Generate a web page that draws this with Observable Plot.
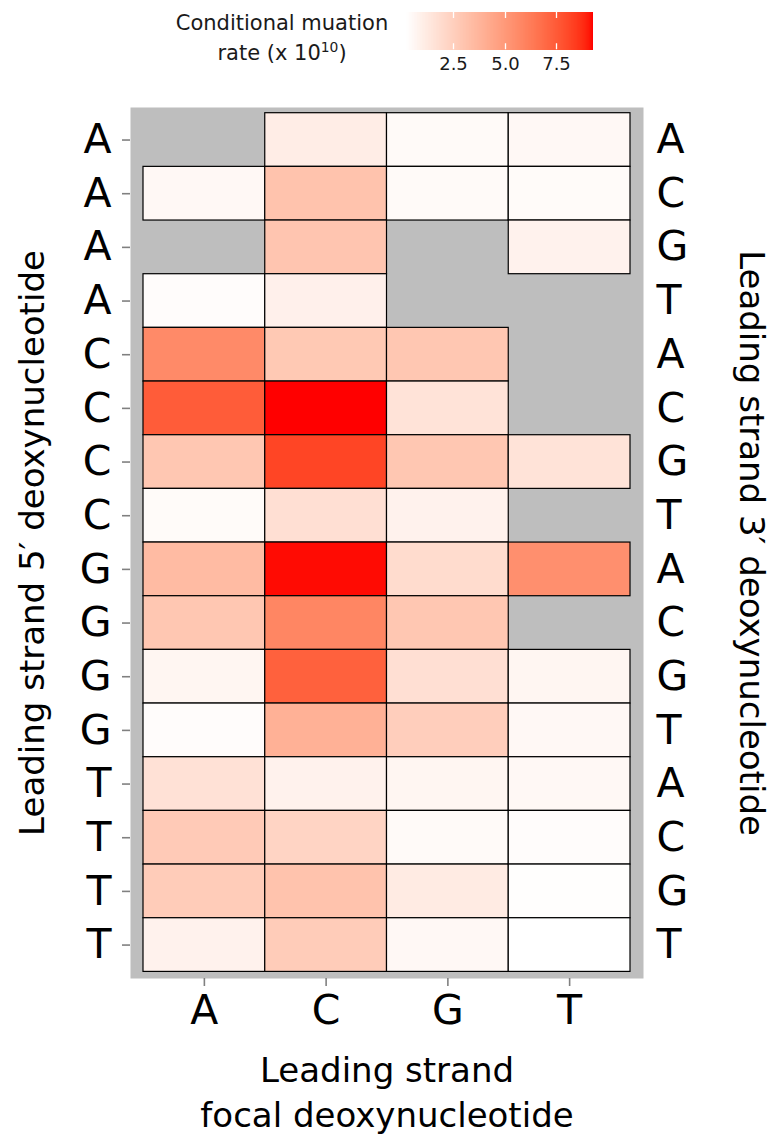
<!DOCTYPE html>
<html>
<head>
<meta charset="utf-8">
<script src="https://cdn.jsdelivr.net/npm/d3@7"></script>
<script src="https://cdn.jsdelivr.net/npm/@observablehq/plot@0.6"></script>
<style>
  body { margin: 0; background: white; }
  #wrap { position: relative; width: 776px; height: 1137px; font-family: "DejaVu Sans", sans-serif; overflow: hidden; }
  #legend-title { position: absolute; left: 142px; top: 8px; width: 280px; text-align: center; font-size: 21px; line-height: 30px; color: #1a1a1a; }
  #legend-title .sup { position: relative; top: -0.55em; font-size: 0.66em; line-height: 0; }
  #legend { position: absolute; left: 396px; top: 0px; }
  #legend svg { font-family: "DejaVu Sans", sans-serif !important; overflow: visible; }
  #legend text { font-size: 18px !important; fill: #1a1a1a; }
  #legend .tick line { stroke: white !important; stroke-width: 1.3px; stroke-dasharray: 6 25.3 6 60; }
  #chart { position: absolute; left: 0; top: 95px; }
</style>
</head>
<body>
<div id="wrap">
  <div id="legend-title">Conditional muation<br>rate (x 10<span class="sup">10</span>)</div>
  <div id="legend"></div>
  <div id="chart"></div>
</div>
<script>
// Focal (leading strand) deoxynucleotide — x categories
const focal = ["A", "C", "G", "T"];
// Row contexts: 5' neighbour (left labels) and 3' neighbour (right labels)
const fivePrime  = ["A","A","A","A","C","C","C","C","G","G","G","G","T","T","T","T"];
const threePrime = ["A","C","G","T","A","C","G","T","A","C","G","T","A","C","G","T"];

// Conditional mutation rate (x 10^10) per row, one array per focal base (null = no data)
const rateA = [null, 0.56, null, 0.38, 5.66, 7.48, 2.93, 0.43, 3.48, 2.93, 0.66, 0.38, 1.66, 2.75, 2.66, 0.84];
const rateC = [1.10, 3.10, 3.00, 0.93, 2.84, 9.27, 8.20, 1.75, 9.20, 5.84, 7.30, 3.95, 0.84, 2.29, 3.11, 2.66];
const rateG = [0.47, 0.47, null, null, 2.93, 1.57, 2.93, 0.84, 1.93, 2.93, 1.75, 2.57, 0.66, 0.47, 1.20, 0.56];
const rateT = [0.56, 0.43, 0.84, null, null, null, 1.57, null, 5.45, null, 0.66, 0.56, 0.56, 0.38, 0.29, 0.23];

// Legend tick labels
const legendTicks = [2.5, 5.0, 7.5];

const xTitle = "Leading strand\nfocal deoxynucleotide";
const yLeftTitle = "Leading strand 5\u2032 deoxynucleotide";
const yRightTitle = "Leading strand 3\u2032 deoxynucleotide";

// Build table
const rowKeys = fivePrime.map((f, i) => f + threePrime[i]);
const byFocal = {A: rateA, C: rateC, G: rateG, T: rateT};
const data = [];
for (const b of focal) {
  byFocal[b].forEach((v, i) => {
    if (v != null) data.push({focal: b, key: rowKeys[i], rate: v});
  });
}
const extent = d3.extent(data, d => d.rate);

const colorOpts = {type: "linear", domain: extent, range: ["white", "red"], interpolate: "lab"};

const chart = Plot.plot({
  width: 776,
  height: 1042,
  marginTop: 12,
  marginBottom: 159,
  marginLeft: 130,
  marginRight: 133,
  style: {fontFamily: "'DejaVu Sans', sans-serif", background: "white", color: "black", overflow: "visible"},
  x: {type: "band", domain: focal, padding: 0, round: false, insetLeft: 13, insetRight: 13},
  y: {type: "band", domain: rowKeys, padding: 0, round: false, insetTop: 5.7, insetBottom: 6.6},
  color: colorOpts,
  marks: [
    Plot.frame({fill: "#BEBEBE", stroke: "none"}),
    Plot.cell(data, {x: "focal", y: "key", fill: "rate", stroke: "black", strokeWidth: 1.2}),
    Plot.axisY({anchor: "left", tickFormat: k => k[0], fontSize: 41, tickSize: 8, tickPadding: 11, stroke: "#808080", strokeWidth: 1.6, fill: "black", label: null}),
    Plot.axisY({anchor: "right", tickFormat: k => k[1], fontSize: 41, tickSize: 0, tickPadding: 13, fill: "black", label: null}),
    Plot.axisX({anchor: "bottom", fontSize: 41, tickSize: 8, tickPadding: 8, stroke: "#808080", strokeWidth: 1.6, fill: "black", label: null}),
    Plot.text([xTitle], {text: d => d, frameAnchor: "bottom", textAnchor: "middle", lineAnchor: "top", dy: 71, fontSize: 34, lineHeight: 1.34, fill: "black"}),
    Plot.text([yLeftTitle], {text: d => d, frameAnchor: "left", textAnchor: "middle", rotate: -90, lineAnchor: "bottom", dx: -87, fontSize: 34, fill: "black"}),
    Plot.text([yRightTitle], {text: d => d, frameAnchor: "right", textAnchor: "middle", rotate: 90, lineAnchor: "bottom", dx: 96, fontSize: 34, fill: "black"})
  ]
});
document.getElementById("chart").append(chart);

const legend = Plot.legend({
  color: colorOpts,
  width: 207,
  height: 80,
  marginLeft: 10,
  marginRight: 10,
  marginTop: 12,
  marginBottom: 30,
  ticks: legendTicks,
  tickFormat: ".1f",
  tickSize: 4,
  label: null,
  style: {fontFamily: "'DejaVu Sans', sans-serif", background: "transparent"}
});
document.getElementById("legend").append(legend);
</script>
</body>
</html>
